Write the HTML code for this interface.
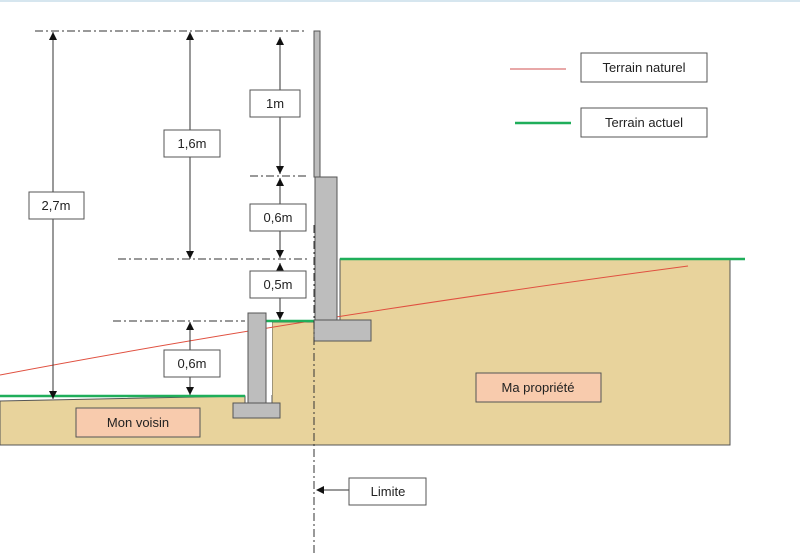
<!DOCTYPE html>
<html><head><meta charset="utf-8"><style>
html,body{margin:0;padding:0;background:#fff;width:800px;height:558px;overflow:hidden}
text{font-family:"Liberation Sans",sans-serif;font-size:13px;fill:#222}
</style></head><body>
<svg width="800" height="558" viewBox="0 0 800 558" xmlns="http://www.w3.org/2000/svg">
<rect x="0" y="0" width="800" height="2" fill="#d6e6ef"/>
<!-- soil -->
<path d="M0,401 L245,396 L245,418 L272,418 L272,322 L340,322 L340,259 L730,259 L730,445 L0,445 Z" fill="#e8d39c" stroke="#555" stroke-width="1"/>
<rect x="266" y="313" width="6" height="82" fill="#fff"/>
<!-- red natural line -->
<path d="M0,375 Q300,318 688,266" fill="none" stroke="#e05040" stroke-width="1"/>
<!-- green lines -->
<line x1="340" y1="259" x2="745" y2="259" stroke="#1fae5a" stroke-width="2.5"/>
<line x1="266" y1="321" x2="315" y2="321" stroke="#1fae5a" stroke-width="2.5"/>
<line x1="0" y1="396" x2="245" y2="396" stroke="#1fae5a" stroke-width="2.5"/>
<!-- walls -->
<g fill="#bdbdbd" stroke="#555" stroke-width="1">
<rect x="314" y="31" width="6" height="146"/>
<rect x="315" y="177" width="22" height="143"/>
<rect x="314" y="320" width="57" height="21"/>
<rect x="248" y="313" width="18" height="90"/>
<rect x="233" y="403" width="47" height="15"/>
</g>
<!-- dash-dot lines -->
<g stroke="#333" stroke-width="1" stroke-dasharray="8,3,2,3" fill="none">
<line x1="35" y1="31" x2="307" y2="31"/>
<line x1="250" y1="176" x2="307" y2="176"/>
<line x1="118" y1="259" x2="307" y2="259"/>
<line x1="113" y1="321" x2="245" y2="321"/>
<line x1="314" y1="225" x2="314" y2="556"/>
</g>
<!-- dimension lines -->
<g stroke="#333" stroke-width="1">
<line x1="53" y1="32" x2="53" y2="399"/>
<line x1="190" y1="32" x2="190" y2="259"/>
<line x1="280" y1="37" x2="280" y2="174"/>
<line x1="280" y1="178" x2="280" y2="258"/>
<line x1="280" y1="263" x2="280" y2="320"/>
<line x1="190" y1="322" x2="190" y2="395"/>
<line x1="349" y1="490" x2="318" y2="490"/>
</g>
<g fill="#111">
<!-- up arrows (tip at y) -->
<path d="M49,40 L57,40 L53,32 Z"/>
<path d="M186,40 L194,40 L190,32 Z"/>
<path d="M276,45 L284,45 L280,37 Z"/>
<path d="M276,186 L284,186 L280,178 Z"/>
<path d="M276,271 L284,271 L280,263 Z"/>
<path d="M186,330 L194,330 L190,322 Z"/>
<!-- down arrows -->
<path d="M49,391 L57,391 L53,399 Z"/>
<path d="M186,251 L194,251 L190,259 Z"/>
<path d="M276,166 L284,166 L280,174 Z"/>
<path d="M276,250 L284,250 L280,258 Z"/>
<path d="M276,312 L284,312 L280,320 Z"/>
<path d="M186,387 L194,387 L190,395 Z"/>
<!-- left arrow -->
<path d="M324,486 L324,494 L316,490 Z"/>
</g>
<!-- label boxes -->
<g fill="#fff" stroke="#555" stroke-width="1">
<rect x="29" y="192" width="55" height="27"/>
<rect x="164" y="130" width="56" height="27"/>
<rect x="250" y="90" width="50" height="27"/>
<rect x="250" y="204" width="56" height="27"/>
<rect x="250" y="271" width="56" height="27"/>
<rect x="164" y="350" width="56" height="27"/>
<rect x="349" y="478" width="77" height="27"/>
<rect x="581" y="53" width="126" height="29"/>
<rect x="581" y="108" width="126" height="29"/>
</g>
<rect x="476" y="373" width="125" height="29" fill="#f8cbad" stroke="#555"/>
<rect x="76" y="408" width="124" height="29" fill="#f8cbad" stroke="#555"/>
<g text-anchor="middle">
<text x="56" y="210">2,7m</text>
<text x="192" y="148">1,6m</text>
<text x="275" y="108">1m</text>
<text x="278" y="222">0,6m</text>
<text x="278" y="289">0,5m</text>
<text x="192" y="368">0,6m</text>
<text x="388" y="496">Limite</text>
<text x="644" y="72">Terrain naturel</text>
<text x="644" y="127">Terrain actuel</text>
<text x="538" y="392">Ma propriété</text>
<text x="138" y="427">Mon voisin</text>
</g>
<line x1="510" y1="69" x2="566" y2="69" stroke="#d05050" stroke-width="1"/>
<line x1="515" y1="123" x2="571" y2="123" stroke="#1fae5a" stroke-width="2.5"/>
</svg>
</body></html>
